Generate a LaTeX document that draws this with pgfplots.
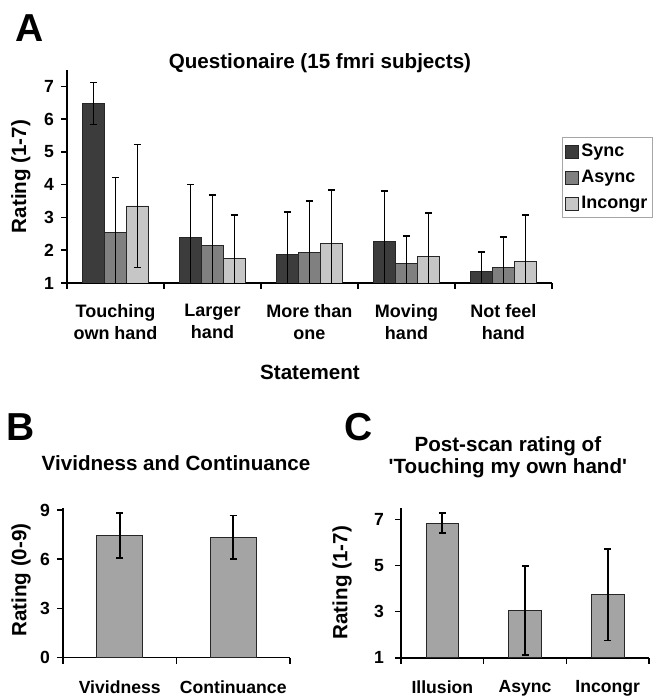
\documentclass[border=0pt]{standalone}
\usepackage{fontspec}
\setmainfont{Liberation Sans}
\usepackage{pgfplots}
\pgfplotsset{compat=1.18}
\definecolor{csync}{HTML}{3C3C3C}
\definecolor{casync}{HTML}{808080}
\definecolor{cinc}{HTML}{C6C6C6}
\definecolor{cbar}{HTML}{A4A4A4}
\pgfplotsset{
 every axis title shift=0pt,
 panel/.style={
  scale only axis,
  axis x line*=bottom, axis y line*=left,
  axis line style={-, line width=0.8pt, black},
  tick align=outside,
  major tick length=3pt, minor tick length=3pt,
  tick style={line width=0.8pt, black},
  major x tick style={draw=none},
  /pgf/number format/assume math mode=true,
  ticklabel style={font=\bfseries\fontsize{8.8}{10}\selectfont},
  label style={font=\bfseries\fontsize{10.3}{11}\selectfont},
  title style={font=\bfseries\fontsize{10.3}{10.8}\selectfont},
  clip=true,
  ybar=0pt,
  every axis plot/.append style={draw=black!85, line width=0.4pt},
  error bars/y dir=both, error bars/y explicit,
  error bars/error bar style={line width=0.85pt, black},
  error bars/error mark options={rotate=90, mark size=1.75pt, line width=0.85pt, black},
 },
}
\begin{document}
\begin{tikzpicture}
\path[use as bounding box] (0,0) rectangle (326.5pt,348pt);
% panel letters
\node[font=\bfseries\fontsize{19.5}{22}\selectfont] at (15pt,333.75pt) {A};
\node[font=\bfseries\fontsize{19.5}{22}\selectfont] at (10.25pt,134.5pt) {B};
\node[font=\bfseries\fontsize{19.5}{22}\selectfont] at (179.5pt,134.5pt) {C};

% ---------- Panel A ----------
\begin{axis}[panel,
  at={(33.5pt,206.5pt)}, anchor=south west,
  width=242.5pt, height=106.5pt,
  xmin=0.5, xmax=5.5, ymin=1, ymax=7.5,
  bar width=11pt,
  xtick={1,2,3,4,5},
  minor xtick={0.5,1.5,2.5,3.5,4.5,5.5},
  xticklabels={{Touching\\own hand},{Larger\\hand},{More than\\one},{Moving\\hand},{Not feel\\hand}},
  xticklabel style={align=center, yshift=-4pt, font=\bfseries\fontsize{9}{11}\selectfont},
  ytick={1,2,3,4,5,6,7},
  title={Questionaire (15 fmri subjects)},
  title style={at={(axis description cs:0.5216,1.033)}, anchor=center},
  xlabel={Statement},
  xlabel style={at={(axis description cs:0.501,-0.418)}, anchor=center},
  ylabel={Rating (1-7)},
  ylabel style={at={(axis description cs:-0.095,0.5)}, anchor=center, rotate=0},
  legend style={at={(axis description cs:1.0206,0.6854)}, anchor=north west,
     draw=gray!70, line width=0.5pt, inner sep=1.5pt, row sep=2pt,
     font=\bfseries\fontsize{9}{10}\selectfont,
     nodes={inner sep=1pt, text height=7pt, text depth=2pt}},
  legend cell align=left,
  legend image code/.code={\draw[#1, draw=black!85, line width=0.4pt] (0pt,-3.25pt) rectangle (6.5pt,3.25pt);},
]
\addplot[fill=csync] coordinates {(1,6.48) +- (0,0.64) (2,2.40) +- (0,1.61) (3,1.86) +- (0,1.31) (4,2.27) +- (0,1.53) (5,1.36) +- (0,0.59)};
\addplot[fill=casync] coordinates {(1,2.53) +- (0,1.69) (2,2.14) +- (0,1.55) (3,1.93) +- (0,1.57) (4,1.61) +- (0,0.82) (5,1.48) +- (0,0.92)};
\addplot[fill=cinc] coordinates {(1,3.35) +- (0,1.88) (2,1.74) +- (0,1.34) (3,2.22) +- (0,1.62) (4,1.80) +- (0,1.34) (5,1.67) +- (0,1.40)};
\legend{Sync,Async,Incongr}
\end{axis}

% ---------- Panel B ----------
\begin{axis}[panel,
  at={(31.5pt,19.15pt)}, anchor=south west,
  width=113.5pt, height=74.65pt,
  xmin=0.5, xmax=2.5, ymin=0, ymax=9.1,
  bar width=23pt,
  xtick={1,2}, minor xtick={0.5,1.5,2.5},
  xticklabels={Vividness,Continuance},
  xticklabel style={yshift=-5pt},
  ytick={0,3,6,9},
  title={Vividness and Continuance},
  title style={at={(axis description cs:0.498,1.304)}, anchor=center},
  ylabel={Rating (0-9)},
  ylabel style={at={(axis description cs:-0.185,0.52)}, anchor=center, rotate=0},
]
\addplot[fill=cbar] coordinates {(1,7.44) +- (0,1.37) (2,7.35) +- (0,1.32)};
\end{axis}

% ---------- Panel C ----------
\begin{axis}[panel,
  at={(200.5pt,19.15pt)}, anchor=south west,
  width=124pt, height=74.95pt,
  xmin=0.5, xmax=3.5, ymin=1, ymax=7.5,
  bar width=16.3pt,
  xtick={1,2,3}, minor xtick={0.5,1.5,2.5,3.5},
  xticklabels={Illusion,Async,Incongr},
  xticklabel style={yshift=-5pt},
  yticklabel style={xshift=-2pt},
  ytick={1,3,5,7},
  title={Post-scan rating of\\\textquotesingle Touching my own hand\textquotesingle},
  title style={at={(axis description cs:0.431,1.336)}, anchor=center, align=center},
  ylabel={Rating (1-7)},
  ylabel style={at={(axis description cs:-0.238,0.5)}, anchor=center, rotate=0},
]
\addplot[fill=cbar] coordinates {(1,6.83) +- (0,0.43) (2,3.06) +- (0,1.93) (3,3.73) +- (0,1.99)};
\end{axis}
\end{tikzpicture}
\end{document}
